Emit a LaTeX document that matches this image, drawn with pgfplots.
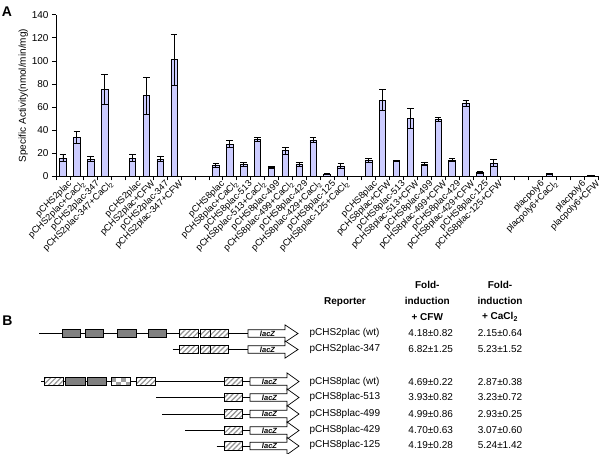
\documentclass[border=0pt]{standalone}
\usepackage{fontspec}
\setmainfont{Liberation Sans}
\usepackage{pgfplots}
\usepackage{pgfplotstable}
\pgfplotsset{compat=1.18}
\usetikzlibrary{patterns,patterns.meta}
\definecolor{barfill}{RGB}{204,204,255}
\definecolor{boxgray}{RGB}{128,128,128}

\pgfplotstableread{
x y e
0 16 3
1 34 5
2 15 2
3 75 13
5 16 3
6 70 16
7 15 2
8 101 22
11 9.5 2
12 28 3
13 10.5 2
14 32 2
15 8 1
16 22.5 3
17 10.5 2
18 31.5 2
19 2 0.5
20 9.2 2.5
22 14 2
23 66 9
24 13.3 0.5
25 50 8.5
26 10.8 1.3
27 49.5 2
28 14.2 1.3
29 63 2.5
30 3.3 1
31 11.5 3
34 0 0
35 2.5 0.5
37 0 0
38 1 0.3
}\datatab

% panel B helpers (coordinates in pixel units of the overlay axis)
\newcommand{\gbx}[3]{\draw[fill=boxgray,line width=0.7pt] (#1,#3-4.3) rectangle (#2,#3+4.3);}
\newcommand{\hbx}[3]{\fill[white] (#1,#3-4.3) rectangle (#2,#3+4.3);
  \fill[pattern={Lines[angle=45,distance=3.6pt,line width=1.2pt]},pattern color=gray!85] (#1,#3-4.3) rectangle (#2,#3+4.3);
  \draw[line width=0.7pt] (#1,#3-4.3) rectangle (#2,#3+4.3);}
\newcommand{\lacz}[4]{\draw[fill=white,line width=0.7pt] (#1,#4-3.8) -- (#2,#4-3.8) -- (#2,#4-8.6) -- (#3,#4) -- (#2,#4+8.6) -- (#2,#4+3.8) -- (#1,#4+3.8) -- cycle;
  \node[font=\fontsize{7.5}{8}\selectfont\bfseries\itshape,inner sep=0pt] at (#1/2+#2/2+1,#4) {lacZ};}

\begin{document}
\begin{tikzpicture}
\path[use as bounding box] (0pt,0pt) rectangle (600pt,-454pt);

\begin{axis}[
  at={(56pt,-176.5pt)}, anchor=south west,
  scale only axis, width=542pt, height=161.8pt,
  xmin=-0.5, xmax=38.5, ymin=0, ymax=140,
  axis lines*=left,
  axis line style={line width=0.8pt},
  ytick={0,20,...,140},
  minor ytick={0,20,...,140},
  tick align=outside,
  major tick length=0pt, minor tick length=4pt,
  xtick=data,
  minor xtick={-0.5,0.5,...,38.5},
  tick style={line width=0.7pt,black},
  /pgf/number format/assume math mode=true,
  yticklabel style={font=\fontsize{10}{12}\selectfont, xshift=-4pt},
  xticklabel style={font=\fontsize{9.2}{10}\selectfont, rotate=45, anchor=north east, inner sep=1pt, yshift=-4pt, xshift=2pt},
  xticklabels={pCHS2plac, pCHS2plac+CaCl\textsubscript{2}, pCHS2plac-347, pCHS2plac-347+CaCl\textsubscript{2},
    pCHS2plac, pCHS2plac+CFW, pCHS2plac-347, pCHS2plac-347+CFW,
    pCHS8plac, pCHS8plac+CaCl\textsubscript{2}, pCHS8plac-513, pCHS8plac-513+CaCl\textsubscript{2},
    pCHS8plac-499, pCHS8plac-499+CaCl\textsubscript{2}, pCHS8plac-429, pCHS8plac-429+CaCl\textsubscript{2},
    pCHS8plac-125, pCHS8plac-125+CaCl\textsubscript{2},
    pCHS8plac, pCHS8plac+CFW, pCHS8plac-513, pCHS8plac-513+CFW,
    pCHS8plac-499, pCHS8plac-499+CFW, pCHS8plac-429, pCHS8plac-429+CFW,
    pCHS8plac-125, pCHS8plac-125+CFW,
    placpoly6, placpoly6+CaCl\textsubscript{2}, placpoly6, placpoly6+CFW},
  ylabel={Specific Activity(nmol/min/mg)},
  ylabel style={font=\fontsize{10}{12}\selectfont, at={(axis description cs:-0.0605,0.5)}, anchor=center},
  clip=false,
]
\addplot[ybar, bar width=6.5pt, fill=barfill, draw=black, line width=0.7pt,
  error bars/.cd, y dir=both, y explicit,
  error bar style={line width=0.8pt,black},
  error mark options={rotate=90, mark size=3.3pt, line width=0.8pt, black}]
  table[x=x, y=y, y error=e]{\datatab};
\end{axis}

\begin{axis}[
  at={(0pt,0pt)}, anchor=north west,
  scale only axis, width=600pt, height=454pt,
  xmin=0, xmax=600, ymin=0, ymax=454, y dir=reverse,
  hide axis, clip=false,
]
\node[font=\fontsize{14}{16}\selectfont\bfseries] at (7,12) {A};
\node[font=\fontsize{14}{16}\selectfont\bfseries] at (7.5,321) {B};

% row 1: pCHS2plac (wt)
\draw[line width=0.8pt] (39.3,333.5) -- (248,333.5);
\gbx{62}{80.7}{333.5}
\gbx{85}{103.3}{333.5}
\gbx{117.3}{136}{333.5}
\gbx{148.3}{166.7}{333.5}
\hbx{179.3}{198.3}{333.5}
\hbx{200}{210}{333.5}
\hbx{210}{228.3}{333.5}
\lacz{248}{285}{298}{333.5}
% row 2: pCHS2plac-347
\draw[line width=0.8pt] (172.7,349.5) -- (179.3,349.5);
\draw[line width=0.5pt] (228.3,349.5) -- (248,349.5);
\hbx{179.3}{198.3}{349.5}
\hbx{200}{210}{349.5}
\hbx{210}{228.3}{349.5}
\lacz{248}{285}{298}{349.5}
% row 3: pCHS8plac (wt)
\draw[line width=0.8pt] (41,381.5) -- (250,381.5);
\hbx{44.3}{63.3}{381.5}
\gbx{65}{85}{381.5}
\gbx{87.3}{106.7}{381.5}
% checkered box
\fill[white] (111.7,377.2) rectangle (130.7,385.8);
\fill[gray!75] (111.7,377.2) rectangle (116.45,381.5);
\fill[gray!75] (121.2,377.2) rectangle (125.95,381.5);
\fill[gray!75] (116.45,381.5) rectangle (121.2,385.8);
\fill[gray!75] (125.95,381.5) rectangle (130.7,385.8);
\draw[line width=0.7pt] (111.7,377.2) rectangle (130.7,385.8);
\hbx{136}{155}{381.5}
\hbx{224}{242.7}{381.5}
\lacz{250}{287}{299}{381.5}
% row 4: -513
\draw[line width=0.5pt] (156,397.5) -- (250,397.5);
\hbx{224}{242.7}{397.5}
\lacz{250}{287}{299}{397.5}
% row 5: -499
\draw[line width=0.8pt] (162.3,414) -- (250,414);
\hbx{224}{242.7}{414}
\lacz{250}{287}{299}{414}
% row 6: -429
\draw[line width=0.8pt] (185,430.5) -- (250,430.5);
\hbx{224}{242.7}{430.5}
\lacz{250}{287}{299}{430.5}
% row 7: -125
\draw[line width=0.8pt] (216.7,446) -- (250,446);
\hbx{224}{242.7}{446}
\lacz{250}{287}{299}{446}

% table
\node[font=\fontsize{10}{12}\selectfont\bfseries] at (345,301.7) {Reporter};
\node[font=\fontsize{10}{12}\selectfont\bfseries] at (427.3,285) {Fold-};
\node[font=\fontsize{10}{12}\selectfont\bfseries] at (427.3,300.7) {induction};
\node[font=\fontsize{10}{12}\selectfont\bfseries] at (427.3,316.7) {+ CFW};
\node[font=\fontsize{10}{12}\selectfont\bfseries] at (500,285) {Fold-};
\node[font=\fontsize{10}{12}\selectfont\bfseries] at (500,300.7) {induction};
\node[font=\fontsize{10}{12}\selectfont\bfseries] at (500,316.7) {+ CaCl\textsubscript{2}};

\node[font=\fontsize{10}{12}\selectfont,anchor=west,inner sep=0pt] at (309.3,332.7) {pCHS2plac (wt)};
\node[font=\fontsize{10}{12}\selectfont,anchor=west,inner sep=0pt] at (309.3,349.3) {pCHS2plac-347};
\node[font=\fontsize{10}{12}\selectfont,anchor=west,inner sep=0pt] at (309.3,381.7) {pCHS8plac (wt)};
\node[font=\fontsize{10}{12}\selectfont,anchor=west,inner sep=0pt] at (309.3,397.3) {pCHS8plac-513};
\node[font=\fontsize{10}{12}\selectfont,anchor=west,inner sep=0pt] at (309.3,413.7) {pCHS8plac-499};
\node[font=\fontsize{10}{12}\selectfont,anchor=west,inner sep=0pt] at (309.3,429.7) {pCHS8plac-429};
\node[font=\fontsize{10}{12}\selectfont,anchor=west,inner sep=0pt] at (309.3,445) {pCHS8plac-125};

\node[font=\fontsize{10}{12}\selectfont] at (430.7,332.7) {4.18±0.82};
\node[font=\fontsize{10}{12}\selectfont] at (430.7,349.3) {6.82±1.25};
\node[font=\fontsize{10}{12}\selectfont] at (430.7,381.7) {4.69±0.22};
\node[font=\fontsize{10}{12}\selectfont] at (430.7,397.3) {3.93±0.82};
\node[font=\fontsize{10}{12}\selectfont] at (430.7,413.7) {4.99±0.86};
\node[font=\fontsize{10}{12}\selectfont] at (430.7,429.7) {4.70±0.63};
\node[font=\fontsize{10}{12}\selectfont] at (430.7,445) {4.19±0.28};

\node[font=\fontsize{10}{12}\selectfont] at (500,332.7) {2.15±0.64};
\node[font=\fontsize{10}{12}\selectfont] at (500,349.3) {5.23±1.52};
\node[font=\fontsize{10}{12}\selectfont] at (500,381.7) {2.87±0.38};
\node[font=\fontsize{10}{12}\selectfont] at (500,397.3) {3.23±0.72};
\node[font=\fontsize{10}{12}\selectfont] at (500,413.7) {2.93±0.25};
\node[font=\fontsize{10}{12}\selectfont] at (500,429.7) {3.07±0.60};
\node[font=\fontsize{10}{12}\selectfont] at (500,445) {5.24±1.42};
\end{axis}
\end{tikzpicture}
\end{document}
